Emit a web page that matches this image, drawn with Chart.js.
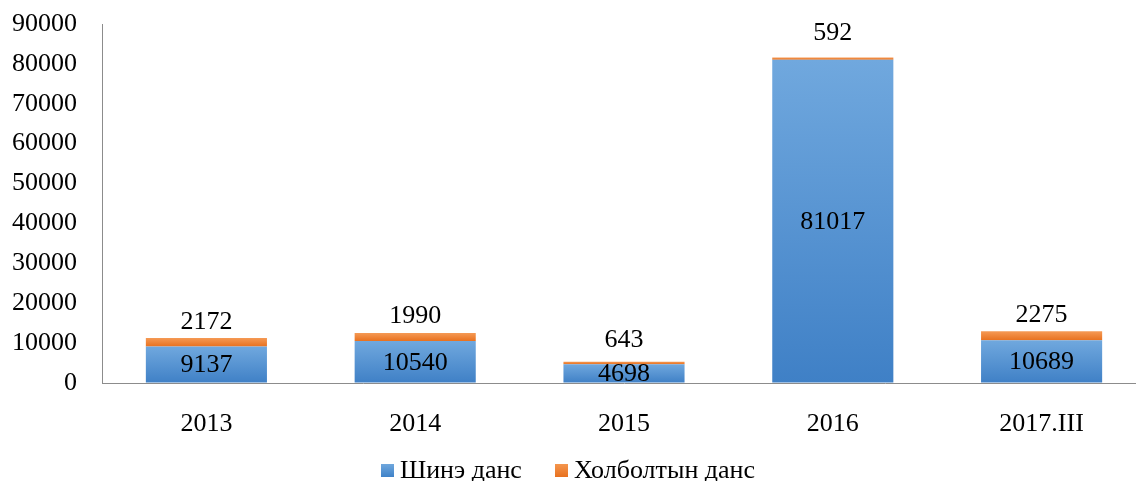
<!DOCTYPE html>
<html>
<head>
<meta charset="utf-8">
<script src="https://cdn.jsdelivr.net/npm/chart.js@4/dist/chart.umd.min.js"></script>
<style>
html,body{margin:0;padding:0;background:#fff;overflow:hidden;width:1136px;height:481px;}
#wrap{position:absolute;left:0;top:0;width:1146px;height:481px;}
#legend{position:absolute;left:0;top:456px;width:1136px;height:28px;display:flex;justify-content:center;align-items:center;
  font-family:"Liberation Serif","Times New Roman",serif;font-size:26px;color:#000;}
#legend .item{display:flex;align-items:center;}
#legend .box{width:13px;height:13px;margin-right:6px;}
#legend .item + .item{margin-left:33px;}
</style>
</head>
<body>
<div id="wrap"><canvas id="c" width="1146" height="481"></canvas></div>
<div id="legend"></div>
<script>
const categories = ['2013', '2014', '2015', '2016', '2017.III'];
const newAccounts = [9137, 10540, 4698, 81017, 10689];
const linkedAccounts = [2172, 1990, 643, 592, 2275];
const seriesNames = ['Шинэ данс', 'Холболтын данс'];
const yTicks = [0, 10000, 20000, 30000, 40000, 50000, 60000, 70000, 80000, 90000];
const topLabelOffsets = [16, 17, 22, 24, 16];

const FONT = '"Liberation Serif", "Times New Roman", serif';
const FS = 26;
const legendColors = ['linear-gradient(#6fa7dd,#3f82c8)', 'linear-gradient(#f4964e,#e8711f)'];

function barGradient(ctx, which, c1, c2) {
  const chart = ctx.chart;
  const ys = chart.scales && chart.scales.y;
  if (!ys || !chart.chartArea || ctx.dataIndex === undefined) return c1;
  const i = ctx.dataIndex;
  const lo = which === 0 ? 0 : newAccounts[i];
  const hi = which === 0 ? newAccounts[i] : newAccounts[i] + linkedAccounts[i];
  const top = ys.getPixelForValue(hi), base = ys.getPixelForValue(lo);
  if (!isFinite(top) || !isFinite(base) || top === base) return c1;
  const g = chart.ctx.createLinearGradient(0, top, 0, base);
  g.addColorStop(0, c1);
  g.addColorStop(1, c2);
  return g;
}

const labelPlugin = {
  id: 'valueLabels',
  afterDatasetsDraw(chart) {
    const ctx = chart.ctx;
    ctx.save();
    ctx.font = FS + 'px ' + FONT;
    ctx.fillStyle = '#000';
    ctx.textAlign = 'center';
    ctx.textBaseline = 'middle';
    const m0 = chart.getDatasetMeta(0);
    const m1 = chart.getDatasetMeta(1);
    m0.data.forEach((el, i) => {
      ctx.fillText(String(newAccounts[i]), el.x, (el.y + el.base) / 2 + 1);
    });
    m1.data.forEach((el, i) => {
      ctx.fillText(String(linkedAccounts[i]), el.x, el.y - topLabelOffsets[i]);
    });
    ctx.restore();
  }
};

const lg = document.getElementById('legend');
seriesNames.forEach((n, k) => {
  const it = document.createElement('div'); it.className = 'item';
  const b = document.createElement('div'); b.className = 'box'; b.style.background = legendColors[k];
  const t = document.createElement('span'); t.textContent = n;
  it.appendChild(b); it.appendChild(t); lg.appendChild(it);
});

new Chart(document.getElementById('c'), {
  type: 'bar',
  data: {
    labels: categories,
    datasets: [
      {
        label: seriesNames[0],
        data: newAccounts,
        backgroundColor: (ctx) => barGradient(ctx, 0, '#70a8de', '#3f80c6'),
        borderWidth: 0,
        barPercentage: 0.58,
        categoryPercentage: 1.0
      },
      {
        label: seriesNames[1],
        data: linkedAccounts,
        backgroundColor: (ctx) => barGradient(ctx, 1, '#f59a55', '#e8711f'),
        borderWidth: 0,
        barPercentage: 0.58,
        categoryPercentage: 1.0
      }
    ]
  },
  options: {
    responsive: false,
    animation: false,
    devicePixelRatio: 1,
    layout: { padding: { top: 24, left: 0, right: 0, bottom: 0 } },
    scales: {
      x: {
        stacked: true,
        grid: { display: true, drawOnChartArea: false, drawTicks: false },
        border: { display: true, color: '#8c8c8c', width: 1 },
        ticks: { font: { family: FONT, size: FS }, color: '#000', padding: 26 },
        afterFit: (s) => { s.height = 98; s.paddingLeft = 0; s.paddingRight = 0; }
      },
      y: {
        stacked: true,
        min: 0,
        max: 90000,
        afterBuildTicks: (s) => { s.ticks = yTicks.map(v => ({ value: v })); },
        grid: { display: true, drawOnChartArea: false, drawTicks: false },
        border: { display: true, color: '#8c8c8c', width: 1 },
        ticks: { font: { family: FONT, size: FS }, color: '#000', padding: 25, callback: (v) => String(v) },
        afterFit: (s) => { s.width = 102; s.paddingTop = 0; s.paddingBottom = 0; }
      }
    },
    plugins: {
      legend: { display: false },
      tooltip: { enabled: false }
    }
  },
  plugins: [labelPlugin]
});
</script>
</body>
</html>
